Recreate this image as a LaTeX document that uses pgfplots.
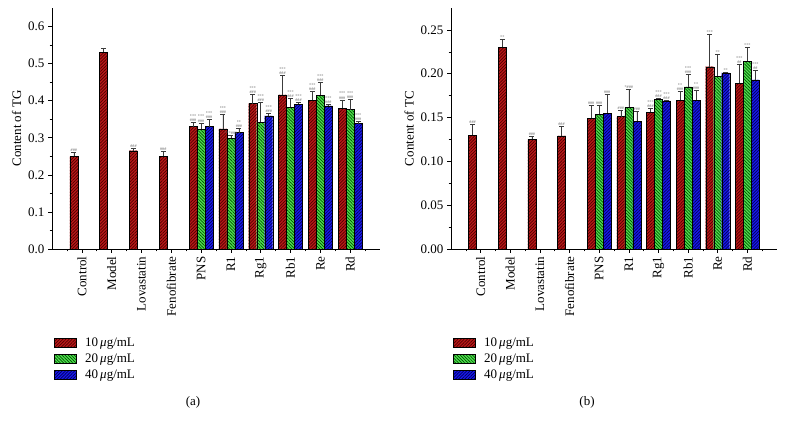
\documentclass[border=0pt]{standalone}
\usepackage{fontspec}
\setmainfont{Liberation Serif}
\usepackage{pgfplots}
\usepackage{pgfplotstable}
\pgfplotsset{compat=1.18}
\usetikzlibrary{patterns.meta}
\newcommand\hh{\#\#\#}
\newcommand\st{***}
\newcommand\sh{***\\\#\#\#}
\definecolor{cR}{RGB}{185,25,25}
\definecolor{cRd}{RGB}{80,0,0}
\definecolor{cG}{RGB}{80,225,80}
\definecolor{cGd}{RGB}{0,80,0}
\definecolor{cB}{RGB}{25,25,235}
\definecolor{cBd}{RGB}{0,0,90}
\definecolor{errc}{RGB}{60,60,60}

% Panel (a)
\pgfplotstableread{
x y err lab
0 0.250 0.010 {\hh}
1 0.531 0.009 {}
2 0.265 0.006 {\hh}
3 0.250 0.013 {\hh}
4 0.330 0.012 {\sh}
5 0.324 0.040 {\sh}
6 0.392 0.026 {\sh}
7 0.416 0.052 {\sh}
8 0.401 0.024 {\sh}
9 0.380 0.022 {\sh}
}\aR
\pgfplotstableread{
x y err lab
4 0.323 0.017 {\sh}
5 0.299 0.009 {\st\hh}
6 0.342 0.053 {\sh}
7 0.382 0.024 {\sh}
8 0.415 0.035 {\sh}
9 0.376 0.027 {\sh}
}\aG
\pgfplotstableread{
x y err lab
4 0.330 0.019 {\sh}
5 0.314 0.012 {**\\\hh}
6 0.359 0.006 {\sh}
7 0.391 0.005 {\sh}
8 0.386 0.005 {\sh}
9 0.338 0.006 {\sh}
}\aB
% Panel (b)
\pgfplotstableread{
x y err lab
0 0.130 0.012 {\hh}
1 0.230 0.009 {**}
2 0.125 0.004 {\hh}
3 0.129 0.011 {\hh}
4 0.149 0.015 {\hh}
5 0.151 0.007 {\hh}
6 0.156 0.004 {\sh}
7 0.170 0.010 {**\\\hh}
8 0.208 0.037 {\st}
9 0.189 0.022 {\st\\\#\#}
}\bR
\pgfplotstableread{
x y err lab
4 0.154 0.010 {\hh}
5 0.162 0.020 {*\hh}
6 0.171 0.001 {\sh}
7 0.185 0.014 {\sh}
8 0.197 0.025 {**}
9 0.214 0.016 {\st}
}\bG
\pgfplotstableread{
x y err lab
4 0.155 0.022 {\hh}
5 0.146 0.011 {\hh}
6 0.169 0.001 {\sh}
7 0.170 0.011 {**\\\hh}
8 0.201 0.001 {**}
9 0.193 0.011 {\st\\\#\#}
}\bB

\pgfplotsset{
  mybars/.style={
    scale only axis,
    ybar=0pt, bar width=8pt,
    xmin=-1, xmax=10, ymin=0,
    axis lines*=left,
    axis line style={black, line width=0.6pt},
    tick align=outside,
    major tick length=4pt, minor tick length=2.5pt,
    tick style={black, line width=0.6pt},
    xtick={0,...,9},
    minor xtick={-0.5,0.5,...,9.5},
    xticklabels={Control,Model,Lovastatin,Fenofibrate,PNS,R1,Rg1,Rb1,Re,Rd},
    xticklabel style={rotate=90, anchor=east, font=\fontsize{13}{15}\selectfont},
    yticklabel style={font=\fontsize{13}{15}\selectfont},
    ylabel style={font=\fontsize{13}{15}\selectfont, xshift=0pt},
    minor y tick num=1,
    /pgf/number format/assume math mode=true,
    legend style={draw=none, fill=none, at={(0.006,-0.36)}, anchor=north west,
      font=\fontsize{13}{15}\selectfont, inner sep=0pt, row sep=3pt,
      nodes={inner sep=1.5pt}},
    legend cell align=left,
    legend image code/.code={\draw[#1] (0pt,-4.5pt) rectangle (22pt,4.5pt);},
    /tikz/every odd column/.append style={column sep=7pt},
    error bars/y dir=plus, error bars/y explicit,
    error bars/error bar style={errc, line width=0.6pt},
    error bars/error mark options={rotate=90, errc, line width=0.6pt, mark size=2.5pt},
    nodes near coords, point meta=explicit symbolic,
    visualization depends on={\thisrow{err} \as \myerr},
    every node near coord/.append style={shift={(axis direction cs:0,\myerr)},
      anchor=south, font=\fontsize{4.2}{4.2}\selectfont, text=black!60,
      align=center, inner sep=0.6pt},
  },
  redbar/.style={draw=black, line width=0.4pt, fill=cR,
    postaction={pattern={Lines[angle=45, distance=2.2pt, line width=0.7pt]}, pattern color=cRd}},
  greenbar/.style={draw=black, line width=0.4pt, fill=cG,
    postaction={pattern={Lines[angle=-45, distance=2.2pt, line width=0.7pt]}, pattern color=cGd}},
  bluebar/.style={draw=black, line width=0.4pt, fill=cB,
    postaction={pattern={Lines[angle=45, distance=2.2pt, line width=0.7pt]}, pattern color=cBd}},
}

\begin{document}
\begin{tikzpicture}[x=1pt,y=1pt]
\useasboundingbox (0,0) rectangle (785,-427);
\begin{axis}[mybars,
  at={(52pt,-249pt)}, anchor=south west,
  width=328pt, height=241pt, ymax=0.65,
  ytick={0,0.1,...,0.6},
  yticklabel style={/pgf/number format/fixed, /pgf/number format/fixed zerofill, /pgf/number format/precision=1},
  ylabel={Content of TG},
]
\addplot[redbar] table[x=x, y=y, y error=err, meta=lab] {\aR};
\addplot[greenbar] table[x=x, y=y, y error=err, meta=lab] {\aG};
\addplot[bluebar] table[x=x, y=y, y error=err, meta=lab] {\aB};
\legend{10\,\textit{μ}g/mL, 20\,\textit{μ}g/mL, 40\,\textit{μ}g/mL}
\end{axis}
\begin{axis}[mybars,
  at={(451pt,-249pt)}, anchor=south west,
  width=326pt, height=241pt, ymax=0.275,
  ytick={0,0.05,...,0.25},
  yticklabel style={/pgf/number format/fixed, /pgf/number format/fixed zerofill, /pgf/number format/precision=2},
  ylabel={Content of TC},
]
\addplot[redbar] table[x=x, y=y, y error=err, meta=lab] {\bR};
\addplot[greenbar] table[x=x, y=y, y error=err, meta=lab] {\bG};
\addplot[bluebar] table[x=x, y=y, y error=err, meta=lab] {\bB};
\legend{10\,\textit{μ}g/mL, 20\,\textit{μ}g/mL, 40\,\textit{μ}g/mL}
\end{axis}
\node[font=\fontsize{13}{15}\selectfont] at (193,-402) {(a)};
\node[font=\fontsize{13}{15}\selectfont] at (587,-402) {(b)};
\end{tikzpicture}
\end{document}
